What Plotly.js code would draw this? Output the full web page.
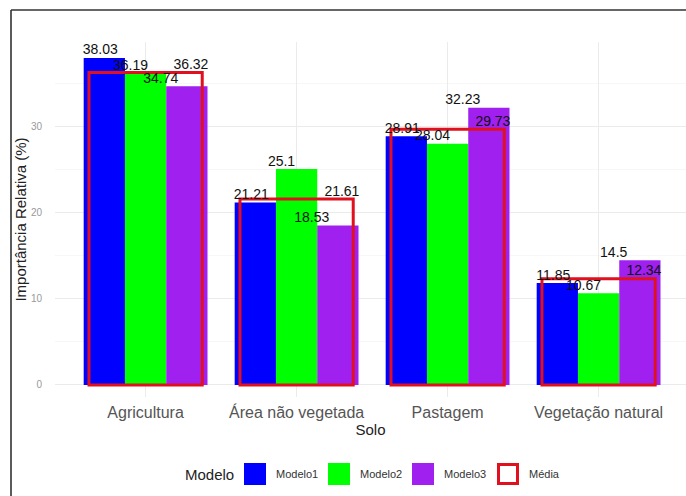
<!DOCTYPE html>
<html>
<head>
<meta charset="utf-8">
<script src="https://cdn.plot.ly/plotly-3.0.1.min.js"></script>
<style>html,body{margin:0;padding:0;background:#fff;}#chart{width:686px;height:496px;}</style>
</head>
<body>
<div id="chart"></div>
<script>
// ---- data ----
const categories = ["Agricultura", "Área não vegetada", "Pastagem", "Vegetação natural"];
const modelo1 = [38.03, 21.21, 28.91, 11.85];
const modelo2 = [36.19, 25.1, 28.04, 10.67];
const modelo3 = [34.74, 18.53, 32.23, 14.5];
const media   = [36.32, 21.61, 29.73, 12.34];
const seriesNames = ["Modelo1", "Modelo2", "Modelo3", "Média"];
const yTickVals = [0, 10, 20, 30];

// ---- styles ----
const FONT = "Liberation Sans, Arial, sans-serif";
const colors = ["#0000FF", "#00FF00", "#A020F0"];
const redLine = "#E0101E";
const idx = categories.map((_, i) => i);

const W = 686, H = 496;
const M = {l: 55, r: 0, t: 42, b: 99};
const pw = W - M.l - M.r, ph = H - M.t - M.b;
const px2x = p => (p - M.l) / pw;
const px2y = p => (H - M.b - p) / ph;

const barW = 0.82 / 3;
const barSeries = [modelo1, modelo2, modelo3];
const traces = [];
barSeries.forEach((vals, k) => {
  traces.push({
    type: "bar", x: idx, y: vals, name: seriesNames[k],
    offset: -0.41 + k * barW, width: barW,
    marker: {color: colors[k], line: {width: 0}},
    showlegend: false, hoverinfo: "y"
  });
});
traces.push({
  type: "bar", x: idx, y: media, name: "Média",
  offset: -0.375, width: 0.75,
  marker: {color: "rgba(0,0,0,0)", line: {color: redLine, width: 3}},
  showlegend: false, hoverinfo: "y"
});
// value labels (dodged in 4 slots)
const allSeries = [modelo1, modelo2, modelo3, media];
const slots = [-0.3, -0.1, 0.1, 0.3];
allSeries.forEach((vals, k) => {
  traces.push({
    type: "scatter", mode: "text",
    x: idx.map(i => i + slots[k]), y: vals,
    text: vals.map(v => String(v)),
    textposition: "top center",
    textfont: {family: FONT, size: 14, color: "#111"},
    cliponaxis: false, showlegend: false, hoverinfo: "skip"
  });
});

// ---- custom legend (ggplot style) ----
const shapes = [
  {type: "line", xref: "paper", yref: "paper", x0: px2x(11), x1: px2x(700), y0: px2y(10), y1: px2y(10), line: {color: "#333", width: 1.6}},
  {type: "line", xref: "paper", yref: "paper", x0: px2x(11), x1: px2x(11), y0: px2y(10), y1: px2y(510), line: {color: "#333", width: 1.6}}
];
const annotations = [];
const keyX = [244, 328, 412, 497];
const keyTop = 463, keyBot = 485;
seriesNames.forEach((nm, k) => {
  const isMedia = k === 3;
  shapes.push({
    type: "rect", xref: "paper", yref: "paper",
    x0: px2x(keyX[k] + (isMedia ? 1.5 : 0)), x1: px2x(keyX[k] + 22 - (isMedia ? 1.5 : 0)),
    y0: px2y(keyBot - (isMedia ? 1.5 : 0)), y1: px2y(keyTop + (isMedia ? 1.5 : 0)),
    fillcolor: isMedia ? "#ffffff" : colors[k],
    line: isMedia ? {color: redLine, width: 3} : {width: 0}
  });
  annotations.push({
    xref: "paper", yref: "paper", x: px2x(keyX[k] + 30), y: px2y(474),
    xanchor: "left", yanchor: "middle", showarrow: false,
    text: nm, font: {family: FONT, size: 11, color: "#333"}
  });
});
annotations.push({
  xref: "paper", yref: "paper", x: px2x(236), y: px2y(474),
  xanchor: "right", yanchor: "middle", showarrow: false,
  text: "Modelo", font: {family: FONT, size: 15, color: "#222"}
});

const layout = {
  width: W, height: H,
  margin: M,
  paper_bgcolor: "#fff", plot_bgcolor: "#fff",
  font: {family: FONT},
  barmode: "overlay",
  showlegend: false,
  xaxis: {
    range: [-0.6, -0.6 + pw / 151],
    tickvals: idx, ticktext: categories,
    showgrid: true, gridcolor: "#ebebeb", gridwidth: 1,
    zeroline: false, showline: false, ticks: "",
    tickfont: {family: FONT, size: 16, color: "#555"},
    ticklabelstandoff: 4,
    title: {text: "Solo", font: {family: FONT, size: 15, color: "#222"}, standoff: 3},
    automargin: false
  },
  yaxis: {
    range: [-1.4, 39.88],
    tickvals: yTickVals,
    showgrid: true, gridcolor: "#ebebeb", gridwidth: 1,
    minor: {tickvals: [5, 15, 25, 35], showgrid: true, gridcolor: "#f4f4f4", gridwidth: 0.7, ticks: ""},
    zeroline: false, showline: false, ticks: "",
    tickfont: {family: FONT, size: 10, color: "#999"},
    ticklabelstandoff: 12,
    title: {text: "Importância Relativa (%)", font: {family: FONT, size: 15, color: "#222"}, standoff: 0},
    automargin: false
  },
  shapes: shapes,
  annotations: annotations
};

Plotly.newPlot("chart", traces, layout, {displayModeBar: false, staticPlot: true});
</script>
</body>
</html>
